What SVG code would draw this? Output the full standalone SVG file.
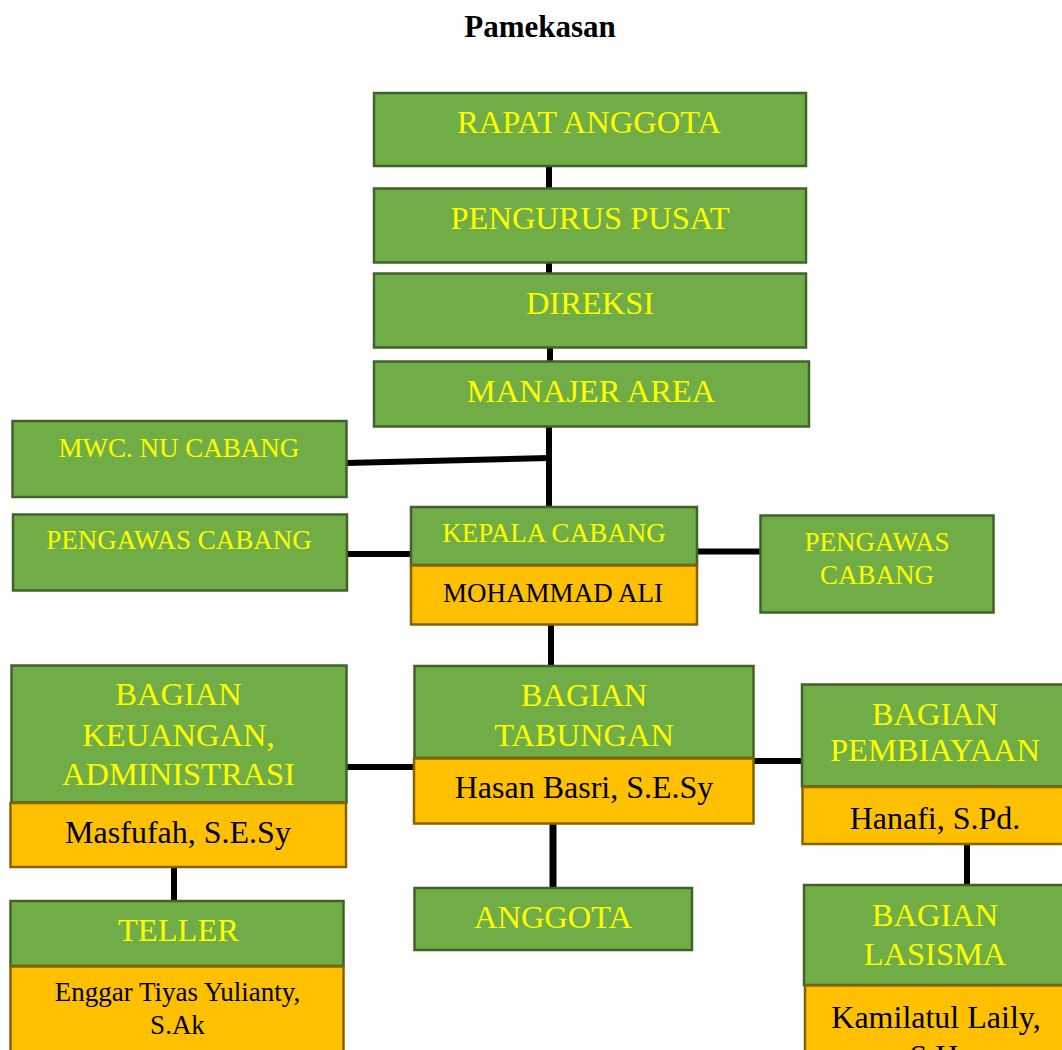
<svg xmlns="http://www.w3.org/2000/svg" width="1062" height="1050" viewBox="0 0 1062 1050">
<style>
.g{fill:#70AD47;stroke:#41632A;stroke-width:2.5}
.o{fill:#FFC000;stroke:#856300;stroke-width:2.5}
.t{font-family:"Liberation Serif","Times New Roman",serif;text-anchor:middle}
.y{fill:#FFFF00}
.k{fill:#000}
.L{font-size:32px}
.y.L{font-size:32.5px}
.S{font-size:27px}
.c{stroke:#000;stroke-width:6;fill:none}
</style>
<rect width="1062" height="1050" fill="#fff"/>
<text class="t k" x="540" y="37" font-size="31" font-weight="bold">Pamekasan</text>
<g id="connectors">
<line class="c" x1="549" y1="166" x2="549" y2="189"/>
<line class="c" x1="549" y1="262" x2="549" y2="274"/>
<line class="c" x1="550" y1="347" x2="550" y2="362"/>
<line class="c" x1="549" y1="426" x2="549" y2="508"/>
<line class="c" x1="346" y1="463" x2="549" y2="458"/>
<line class="c" x1="346" y1="554" x2="411" y2="554"/>
<line class="c" x1="697" y1="551.5" x2="761" y2="551.5"/>
<line class="c" x1="551" y1="624" x2="551" y2="666"/>
<line class="c" x1="346" y1="767" x2="414" y2="767"/>
<line class="c" x1="754" y1="761" x2="802" y2="761"/>
<line class="c" x1="553" y1="823" x2="553" y2="888" style="stroke-width:7"/>
<line class="c" x1="174" y1="867" x2="174" y2="901"/>
<line class="c" x1="967" y1="844" x2="967" y2="885"/>
</g>
<g id="rapat-anggota">
<rect class="g" x="374" y="93" width="432" height="73"/>
<text class="t y L" x="589" y="133">RAPAT ANGGOTA</text>
</g>
<g id="pengurus-pusat">
<rect class="g" x="374" y="188.5" width="432" height="74"/>
<text class="t y L" x="590" y="229">PENGURUS PUSAT</text>
</g>
<g id="direksi">
<rect class="g" x="374" y="273.5" width="432" height="74"/>
<text class="t y L" x="590" y="314">DIREKSI</text>
</g>
<g id="manajer-area">
<rect class="g" x="374" y="361.5" width="435" height="65"/>
<text class="t y L" x="591" y="402">MANAJER AREA</text>
</g>
<g id="mwc-nu-cabang">
<rect class="g" x="12.5" y="421" width="334" height="76"/>
<text class="t y S" x="179" y="457">MWC. NU CABANG</text>
</g>
<g id="pengawas-cabang-kiri">
<rect class="g" x="13" y="514.5" width="334" height="76"/>
<text class="t y S" x="179" y="549">PENGAWAS CABANG</text>
</g>
<g id="kepala-cabang">
<rect class="g" x="411" y="507" width="286" height="58"/>
<text class="t y S" x="554" y="542">KEPALA CABANG</text>
<rect class="o" x="411" y="565.5" width="286" height="59"/>
<text class="t k S" x="553" y="602">MOHAMMAD ALI</text>
</g>
<g id="pengawas-cabang-kanan">
<rect class="g" x="760.5" y="515.5" width="233" height="97"/>
<text class="t y S" x="877" y="551">PENGAWAS</text>
<text class="t y S" x="877" y="583.5">CABANG</text>
</g>
<g id="bagian-keuangan">
<rect class="g" x="11.5" y="665.5" width="335" height="137"/>
<text class="t y L" x="178.5" y="705">BAGIAN</text>
<text class="t y L" x="178.5" y="745.5">KEUANGAN,</text>
<text class="t y L" x="178.5" y="785">ADMINISTRASI</text>
<rect class="o" x="10.5" y="803" width="335.5" height="64"/>
<text class="t k L" x="178" y="843">Masfufah, S.E.Sy</text>
</g>
<g id="bagian-tabungan">
<rect class="g" x="414.5" y="666" width="339" height="92"/>
<text class="t y L" x="584" y="706">BAGIAN</text>
<text class="t y L" x="584" y="746">TABUNGAN</text>
<rect class="o" x="414" y="758.5" width="339.5" height="65"/>
<text class="t k L" x="584" y="798">Hasan Basri, S.E.Sy</text>
</g>
<g id="bagian-pembiayaan">
<rect class="g" x="802" y="684.5" width="266" height="102"/>
<text class="t y L" x="935" y="725">BAGIAN</text>
<text class="t y L" x="935" y="761">PEMBIAYAAN</text>
<rect class="o" x="802.5" y="787" width="266" height="57"/>
<text class="t k L" x="935" y="828.5">Hanafi, S.Pd.</text>
</g>
<g id="anggota">
<rect class="g" x="414.5" y="888" width="277.5" height="62"/>
<text class="t y L" x="553" y="927.5">ANGGOTA</text>
</g>
<g id="teller">
<rect class="g" x="10.5" y="901" width="333" height="65"/>
<text class="t y L" x="178.5" y="941">TELLER</text>
<rect class="o" x="10.5" y="966.5" width="333" height="100"/>
<text class="t k S" x="177.5" y="1001">Enggar Tiyas Yulianty,</text>
<text class="t k S" x="177.5" y="1033.5">S.Ak</text>
</g>
<g id="bagian-lasisma">
<rect class="g" x="804" y="885" width="264" height="100"/>
<text class="t y L" x="935" y="925.5">BAGIAN</text>
<text class="t y L" x="935" y="965">LASISMA</text>
<rect class="o" x="805" y="985.5" width="263" height="100"/>
<text class="t k L" x="936" y="1028">Kamilatul Laily,</text>
<text class="t k L" x="938" y="1067">S.H.</text>
</g>
</svg>
